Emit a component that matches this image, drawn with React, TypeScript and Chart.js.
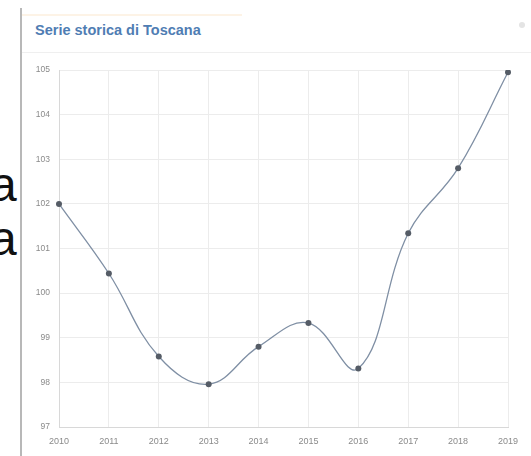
import React, { useEffect, useRef } from "react";
import { Chart, registerables } from "chart.js";

Chart.register(...registerables);

const years = ["2010", "2011", "2012", "2013", "2014", "2015", "2016", "2017", "2018", "2019"];
const values = [102.0, 100.44, 98.58, 97.96, 98.8, 99.33, 98.31, 101.34, 102.8, 104.95];
const yMin = 97;
const yMax = 105;
const titleText = "Serie storica di Toscana";

export default function App() {
  const ref = useRef<HTMLCanvasElement | null>(null);

  useEffect(() => {
    if (!ref.current) return;
    const chart = new Chart(ref.current, {
      type: "line",
      data: {
        labels: years,
        datasets: [
          {
            data: values,
            borderColor: "#7f8fa4",
            borderWidth: 1.3,
            tension: 0.4,
            pointRadius: 3,
            pointBackgroundColor: "#555c66",
            pointBorderColor: "#555c66",
            pointBorderWidth: 0,
            fill: false,
          },
        ],
      },
      options: {
        animation: false,
        responsive: false,
        maintainAspectRatio: false,
        layout: { padding: { top: 15, right: 23, left: 0, bottom: 0 } },
        plugins: { legend: { display: false }, tooltip: { enabled: false }, title: { display: false } },
        scales: {
          x: {
            offset: false,
            grid: { color: "#ececec", drawTicks: false },
            border: { color: "#d8d8d8" },
            ticks: {
              color: "#8a8a8a",
              font: { family: "Liberation Sans, Arial, sans-serif", size: 9 },
              padding: 9,
              maxRotation: 0,
              autoSkip: false,
            },
            afterFit: (s: any) => {
              s.height = 29;
            },
          },
          y: {
            min: yMin,
            max: yMax,
            grid: { color: "#ececec", drawTicks: false },
            border: { color: "#d8d8d8" },
            ticks: {
              stepSize: 1,
              color: "#8a8a8a",
              font: { family: "Liberation Sans, Arial, sans-serif", size: 8.5 },
              padding: 9,
            },
            afterFit: (s: any) => {
              s.width = 38;
            },
          },
        },
      },
    });
    return () => chart.destroy();
  }, []);

  return (
    <div
      style={{
        position: "fixed",
        left: 0,
        top: 0,
        width: 531,
        height: 456,
        background: "#ffffff",
        overflow: "hidden",
        fontFamily: "Liberation Sans, Arial, sans-serif",
      }}
    >
      <div style={{ position: "absolute", left: -10, top: 160, fontSize: 48, lineHeight: "50px", color: "#111" }}>a</div>
      <div style={{ position: "absolute", left: -10, top: 214, fontSize: 48, lineHeight: "50px", color: "#111" }}>a</div>
      <div
        style={{
          position: "absolute",
          left: 20,
          top: 8,
          width: 600,
          height: 460,
          borderLeft: "2px solid #b8b8b8",
          background: "#ffffff",
        }}
      >
        <div style={{ position: "absolute", left: 0, top: 6, width: 220, height: 2, background: "#fdf3e6" }} />
        <div
          style={{
            position: "absolute",
            left: 13,
            top: 14,
            fontSize: 14.5,
            fontWeight: "bold",
            color: "#4f7db3",
            whiteSpace: "nowrap",
          }}
        >
          {titleText}
        </div>
        <div style={{ position: "absolute", left: 0, top: 44, width: 600, height: 1, background: "#efefef" }} />
        <div style={{ position: "absolute", left: 497, top: 14, width: 6, height: 6, borderRadius: 3, background: "#e4e4e4" }} />
      </div>
      <canvas ref={ref} width={510} height={401} style={{ position: "absolute", left: 21, top: 55, width: 510, height: 401 }} />
    </div>
  );
}
